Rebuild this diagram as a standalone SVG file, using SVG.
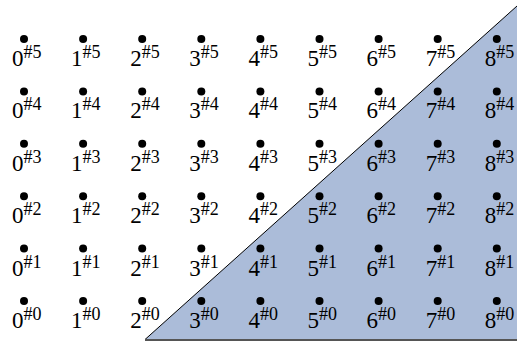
<svg xmlns="http://www.w3.org/2000/svg" width="517" height="343" viewBox="0 0 517 343">
<style>
.d{fill:#000}
.l{font-family:"Liberation Serif","Times New Roman",serif;font-size:23px;fill:#000}
.s{font-size:18px}
</style>
<defs>
<circle id="dot" r="4" class="d"/>
</defs>
<rect width="517" height="343" fill="#fff"/>
<g id="region">
<polygon points="145,339.5 517,339.5 517,6" fill="#abbcd9" stroke="none"/>
<line x1="145" y1="339.5" x2="517" y2="6" stroke="#000" stroke-width="1"/>
<line x1="145" y1="340" x2="517" y2="340" stroke="#555" stroke-width="2"/>
</g>
<g id="nodes">
<g id="n0_5"><use href="#dot" x="24" y="39"/><text class="l" x="12" y="66">0<tspan class="s" dy="-8">#5</tspan></text></g>
<g id="n1_5"><use href="#dot" x="83.1" y="39"/><text class="l" x="71.1" y="66">1<tspan class="s" dy="-8">#5</tspan></text></g>
<g id="n2_5"><use href="#dot" x="142.2" y="39"/><text class="l" x="130.2" y="66">2<tspan class="s" dy="-8">#5</tspan></text></g>
<g id="n3_5"><use href="#dot" x="201.3" y="39"/><text class="l" x="189.3" y="66">3<tspan class="s" dy="-8">#5</tspan></text></g>
<g id="n4_5"><use href="#dot" x="260.4" y="39"/><text class="l" x="248.4" y="66">4<tspan class="s" dy="-8">#5</tspan></text></g>
<g id="n5_5"><use href="#dot" x="319.5" y="39"/><text class="l" x="307.5" y="66">5<tspan class="s" dy="-8">#5</tspan></text></g>
<g id="n6_5"><use href="#dot" x="378.6" y="39"/><text class="l" x="366.6" y="66">6<tspan class="s" dy="-8">#5</tspan></text></g>
<g id="n7_5"><use href="#dot" x="437.7" y="39"/><text class="l" x="425.7" y="66">7<tspan class="s" dy="-8">#5</tspan></text></g>
<g id="n8_5"><use href="#dot" x="496.8" y="39"/><text class="l" x="484.8" y="66">8<tspan class="s" dy="-8">#5</tspan></text></g>

<g id="n0_4"><use href="#dot" x="24" y="91.4"/><text class="l" x="12" y="118.4">0<tspan class="s" dy="-8">#4</tspan></text></g>
<g id="n1_4"><use href="#dot" x="83.1" y="91.4"/><text class="l" x="71.1" y="118.4">1<tspan class="s" dy="-8">#4</tspan></text></g>
<g id="n2_4"><use href="#dot" x="142.2" y="91.4"/><text class="l" x="130.2" y="118.4">2<tspan class="s" dy="-8">#4</tspan></text></g>
<g id="n3_4"><use href="#dot" x="201.3" y="91.4"/><text class="l" x="189.3" y="118.4">3<tspan class="s" dy="-8">#4</tspan></text></g>
<g id="n4_4"><use href="#dot" x="260.4" y="91.4"/><text class="l" x="248.4" y="118.4">4<tspan class="s" dy="-8">#4</tspan></text></g>
<g id="n5_4"><use href="#dot" x="319.5" y="91.4"/><text class="l" x="307.5" y="118.4">5<tspan class="s" dy="-8">#4</tspan></text></g>
<g id="n6_4"><use href="#dot" x="378.6" y="91.4"/><text class="l" x="366.6" y="118.4">6<tspan class="s" dy="-8">#4</tspan></text></g>
<g id="n7_4"><use href="#dot" x="437.7" y="91.4"/><text class="l" x="425.7" y="118.4">7<tspan class="s" dy="-8">#4</tspan></text></g>
<g id="n8_4"><use href="#dot" x="496.8" y="91.4"/><text class="l" x="484.8" y="118.4">8<tspan class="s" dy="-8">#4</tspan></text></g>

<g id="n0_3"><use href="#dot" x="24" y="143.8"/><text class="l" x="12" y="170.8">0<tspan class="s" dy="-8">#3</tspan></text></g>
<g id="n1_3"><use href="#dot" x="83.1" y="143.8"/><text class="l" x="71.1" y="170.8">1<tspan class="s" dy="-8">#3</tspan></text></g>
<g id="n2_3"><use href="#dot" x="142.2" y="143.8"/><text class="l" x="130.2" y="170.8">2<tspan class="s" dy="-8">#3</tspan></text></g>
<g id="n3_3"><use href="#dot" x="201.3" y="143.8"/><text class="l" x="189.3" y="170.8">3<tspan class="s" dy="-8">#3</tspan></text></g>
<g id="n4_3"><use href="#dot" x="260.4" y="143.8"/><text class="l" x="248.4" y="170.8">4<tspan class="s" dy="-8">#3</tspan></text></g>
<g id="n5_3"><use href="#dot" x="319.5" y="143.8"/><text class="l" x="307.5" y="170.8">5<tspan class="s" dy="-8">#3</tspan></text></g>
<g id="n6_3"><use href="#dot" x="378.6" y="143.8"/><text class="l" x="366.6" y="170.8">6<tspan class="s" dy="-8">#3</tspan></text></g>
<g id="n7_3"><use href="#dot" x="437.7" y="143.8"/><text class="l" x="425.7" y="170.8">7<tspan class="s" dy="-8">#3</tspan></text></g>
<g id="n8_3"><use href="#dot" x="496.8" y="143.8"/><text class="l" x="484.8" y="170.8">8<tspan class="s" dy="-8">#3</tspan></text></g>

<g id="n0_2"><use href="#dot" x="24" y="196.2"/><text class="l" x="12" y="223.2">0<tspan class="s" dy="-8">#2</tspan></text></g>
<g id="n1_2"><use href="#dot" x="83.1" y="196.2"/><text class="l" x="71.1" y="223.2">1<tspan class="s" dy="-8">#2</tspan></text></g>
<g id="n2_2"><use href="#dot" x="142.2" y="196.2"/><text class="l" x="130.2" y="223.2">2<tspan class="s" dy="-8">#2</tspan></text></g>
<g id="n3_2"><use href="#dot" x="201.3" y="196.2"/><text class="l" x="189.3" y="223.2">3<tspan class="s" dy="-8">#2</tspan></text></g>
<g id="n4_2"><use href="#dot" x="260.4" y="196.2"/><text class="l" x="248.4" y="223.2">4<tspan class="s" dy="-8">#2</tspan></text></g>
<g id="n5_2"><use href="#dot" x="319.5" y="196.2"/><text class="l" x="307.5" y="223.2">5<tspan class="s" dy="-8">#2</tspan></text></g>
<g id="n6_2"><use href="#dot" x="378.6" y="196.2"/><text class="l" x="366.6" y="223.2">6<tspan class="s" dy="-8">#2</tspan></text></g>
<g id="n7_2"><use href="#dot" x="437.7" y="196.2"/><text class="l" x="425.7" y="223.2">7<tspan class="s" dy="-8">#2</tspan></text></g>
<g id="n8_2"><use href="#dot" x="496.8" y="196.2"/><text class="l" x="484.8" y="223.2">8<tspan class="s" dy="-8">#2</tspan></text></g>

<g id="n0_1"><use href="#dot" x="24" y="248.6"/><text class="l" x="12" y="275.6">0<tspan class="s" dy="-8">#1</tspan></text></g>
<g id="n1_1"><use href="#dot" x="83.1" y="248.6"/><text class="l" x="71.1" y="275.6">1<tspan class="s" dy="-8">#1</tspan></text></g>
<g id="n2_1"><use href="#dot" x="142.2" y="248.6"/><text class="l" x="130.2" y="275.6">2<tspan class="s" dy="-8">#1</tspan></text></g>
<g id="n3_1"><use href="#dot" x="201.3" y="248.6"/><text class="l" x="189.3" y="275.6">3<tspan class="s" dy="-8">#1</tspan></text></g>
<g id="n4_1"><use href="#dot" x="260.4" y="248.6"/><text class="l" x="248.4" y="275.6">4<tspan class="s" dy="-8">#1</tspan></text></g>
<g id="n5_1"><use href="#dot" x="319.5" y="248.6"/><text class="l" x="307.5" y="275.6">5<tspan class="s" dy="-8">#1</tspan></text></g>
<g id="n6_1"><use href="#dot" x="378.6" y="248.6"/><text class="l" x="366.6" y="275.6">6<tspan class="s" dy="-8">#1</tspan></text></g>
<g id="n7_1"><use href="#dot" x="437.7" y="248.6"/><text class="l" x="425.7" y="275.6">7<tspan class="s" dy="-8">#1</tspan></text></g>
<g id="n8_1"><use href="#dot" x="496.8" y="248.6"/><text class="l" x="484.8" y="275.6">8<tspan class="s" dy="-8">#1</tspan></text></g>

<g id="n0_0"><use href="#dot" x="24" y="301"/><text class="l" x="12" y="328">0<tspan class="s" dy="-8">#0</tspan></text></g>
<g id="n1_0"><use href="#dot" x="83.1" y="301"/><text class="l" x="71.1" y="328">1<tspan class="s" dy="-8">#0</tspan></text></g>
<g id="n2_0"><use href="#dot" x="142.2" y="301"/><text class="l" x="130.2" y="328">2<tspan class="s" dy="-8">#0</tspan></text></g>
<g id="n3_0"><use href="#dot" x="201.3" y="301"/><text class="l" x="189.3" y="328">3<tspan class="s" dy="-8">#0</tspan></text></g>
<g id="n4_0"><use href="#dot" x="260.4" y="301"/><text class="l" x="248.4" y="328">4<tspan class="s" dy="-8">#0</tspan></text></g>
<g id="n5_0"><use href="#dot" x="319.5" y="301"/><text class="l" x="307.5" y="328">5<tspan class="s" dy="-8">#0</tspan></text></g>
<g id="n6_0"><use href="#dot" x="378.6" y="301"/><text class="l" x="366.6" y="328">6<tspan class="s" dy="-8">#0</tspan></text></g>
<g id="n7_0"><use href="#dot" x="437.7" y="301"/><text class="l" x="425.7" y="328">7<tspan class="s" dy="-8">#0</tspan></text></g>
<g id="n8_0"><use href="#dot" x="496.8" y="301"/><text class="l" x="484.8" y="328">8<tspan class="s" dy="-8">#0</tspan></text></g>
</g>
<g id="connectors"/>
</svg>
